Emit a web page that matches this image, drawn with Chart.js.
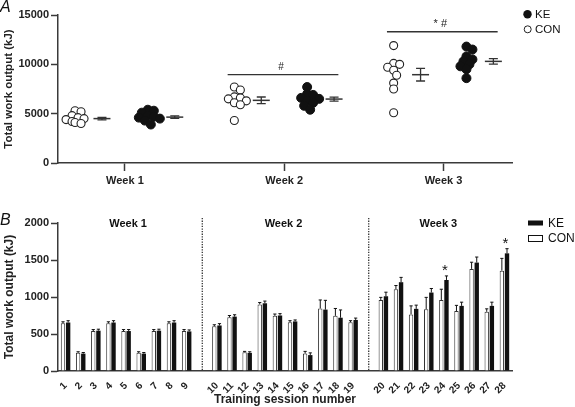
<!DOCTYPE html>
<html>
<head>
<meta charset="utf-8">
<script src="https://cdn.jsdelivr.net/npm/chart.js@4.4.0/dist/chart.umd.min.js"></script>
<style>
  html, body { margin: 0; padding: 0; background: #fff; }
  #wrap { position: relative; width: 575px; height: 407px; }
  #boxA { position: absolute; left: 0; top: 0; width: 575px; height: 195px; }
  #boxB { position: absolute; left: 0; top: 195px; width: 575px; height: 212px; }
</style>
</head>
<body>
<div id="wrap">
  <div id="boxA"><canvas id="chartA"></canvas></div>
  <div id="boxB"><canvas id="chartB"></canvas></div>
</div>
<script>
// ---- panel A: weekly totals per subject ----
const weeks = ["Week 1", "Week 2", "Week 3"];
const conIndividual = [
  [5300, 5200, 4800, 4600, 4500, 4400, 4200, 4100, 4000],
  [7700, 7400, 6700, 6600, 6500, 6300, 6100, 5900, 4300],
  [11900, 10100, 10000, 9700, 9400, 8900, 8100, 7500, 5100],
];
const keIndividual = [
  [5400, 5300, 5100, 4800, 4700, 4600, 4500, 4300, 3900],
  [7700, 7000, 6900, 6600, 6500, 6300, 6100, 5800, 5400],
  [11800, 11500, 10800, 10500, 10300, 10000, 9800, 9500, 8600],
];
const conMean = [4500, 6350, 8950];
const conSem = [120, 340, 640];
const keMean = [4650, 6480, 10300];
const keSem = [130, 200, 270];
const sigLevel = [null, 8950, 13300];
const sigText = ["", "#", "* #"];

// ---- panel B: per session ----
const sessions = ["1", "2", "3", "4", "5", "6", "7", "8", "9", "10", "11", "12", "13", "14",
  "15", "16", "17", "18", "19", "20", "21", "22", "23", "24", "25", "26", "27", "28"];
const conWork = [645, 245, 540, 645, 540, 245, 540, 645, 540, 605, 725, 255, 900, 745,
  660, 235, 845, 745, 660, 960, 1105, 765, 835, 960, 810, 1380, 800, 1355];
const conErr = [20, 15, 20, 20, 20, 15, 20, 20, 20, 20, 25, 10, 25, 25,
  20, 30, 115, 100, 20, 35, 50, 115, 160, 145, 77, 90, 40, 167];
const keWork = [655, 235, 545, 655, 540, 235, 545, 655, 535, 615, 735, 245, 915, 750,
  670, 215, 830, 720, 690, 1010, 1200, 840, 1060, 1230, 880, 1465, 880, 1590];
const keErr = [25, 15, 20, 25, 20, 15, 20, 25, 20, 25, 25, 15, 30, 25,
  20, 30, 125, 105, 25, 55, 65, 50, 55, 55, 50, 75, 50, 63];
const weekEnds = [9, 19, 28];   // last session of each week
const starSessions = [24, 28];

const FONT = "'Liberation Sans', Arial, Helvetica, sans-serif";
Chart.defaults.font.family = FONT;
Chart.defaults.color = "#222";
const AXIS = "#3a3a3a";

// rough beeswarm so overlapping dots spread sideways
const PX_PER_UNIT = 159.3;
const PX_PER_KJ = 148 / 15000;
function swarm(values, centre) {
  const placed = [];
  const out = new Array(values.length);
  const order = values.map((v, i) => i).sort((a, b) => values[b] - values[a]);
  const cands = [0, 3, -3, 6, -6, 9, -9, 12, -12];
  order.forEach(i => {
    const py = values[i] * PX_PER_KJ;
    let dx = cands.find(c => placed.every(p => Math.hypot(p.x - c, p.y - py) >= 5));
    if (dx === undefined) dx = 0;
    placed.push({ x: dx, y: py });
    out[i] = { x: centre + dx / PX_PER_UNIT, y: values[i] };
  });
  return out;
}

const annotA = {
  id: "annotA",
  afterDatasetsDraw(chart) {
    const { ctx, scales: { x, y } } = chart;
    ctx.save();
    ctx.strokeStyle = "#333";
    ctx.lineWidth = 1.3;
    // SEM whiskers around the mean lines
    [[2, conSem], [3, keSem]].forEach(([di, sem]) => {
      chart.data.datasets[di].data.forEach((d, i) => {
        const px = x.getPixelForValue(d.x);
        const top = y.getPixelForValue(d.y + sem[i]);
        const bot = y.getPixelForValue(d.y - sem[i]);
        ctx.beginPath();
        ctx.moveTo(px, top); ctx.lineTo(px, bot);
        ctx.moveTo(px - 4.5, top); ctx.lineTo(px + 4.5, top);
        ctx.moveTo(px - 4.5, bot); ctx.lineTo(px + 4.5, bot);
        ctx.stroke();
      });
    });
    // significance bars
    ctx.fillStyle = "#222";
    ctx.textAlign = "center";
    ctx.textBaseline = "alphabetic";
    sigLevel.forEach((lvl, i) => {
      if (lvl === null) return;
      const py = y.getPixelForValue(lvl);
      ctx.beginPath();
      ctx.moveTo(x.getPixelForValue(i - 0.355), py);
      ctx.lineTo(x.getPixelForValue(i + 0.34), py);
      ctx.stroke();
      ctx.font = (i === 2 ? "11px " : "10px ") + FONT;
      ctx.fillText(sigText[i], x.getPixelForValue(i - 0.02), py - 5);
    });
    // legend
    ctx.textAlign = "left";
    ctx.textBaseline = "middle";
    ctx.font = "11.5px " + FONT;
    ctx.fillStyle = "#111";
    ctx.beginPath(); ctx.arc(527.5, 14.2, 4.2, 0, Math.PI * 2); ctx.fill();
    ctx.fillText("KE", 535, 14.5);
    ctx.lineWidth = 1;
    ctx.strokeStyle = "#222";
    ctx.beginPath(); ctx.arc(527.7, 29.3, 3.5, 0, Math.PI * 2); ctx.stroke();
    ctx.fillText("CON", 535, 29.5);
    // panel letter
    ctx.font = "italic 16px " + FONT;
    ctx.textBaseline = "alphabetic";
    ctx.fillText("A", 0, 12);
    ctx.restore();
  },
};

new Chart(document.getElementById("chartA").getContext("2d"), {
  type: "scatter",
  data: {
    datasets: [
      {
        label: "KE",
        data: keIndividual.flatMap((vals, i) => swarm(vals, i + 0.144)),
        pointRadius: 4.5,
        pointBackgroundColor: "#111",
        pointBorderColor: "#111",
        pointBorderWidth: 1,
      },
      {
        label: "CON",
        data: conIndividual.flatMap((vals, i) => swarm(vals, i - 0.313)),
        pointRadius: 4,
        pointBackgroundColor: "#fff",
        pointBorderColor: "#222",
        pointBorderWidth: 1.1,
      },
      {
        label: "CON mean",
        data: conMean.map((m, i) => ({ x: i - 0.144, y: m })),
        pointStyle: "line",
        pointRadius: 8.5,
        pointBorderColor: "#333",
        pointBorderWidth: 1.5,
      },
      {
        label: "KE mean",
        data: keMean.map((m, i) => ({ x: i + 0.313, y: m })),
        pointStyle: "line",
        pointRadius: 8.5,
        pointBorderColor: "#333",
        pointBorderWidth: 1.5,
      },
    ],
  },
  options: {
    animation: false,
    responsive: true,
    maintainAspectRatio: false,
    layout: { padding: { top: 15, right: 63, left: 0, bottom: 0 } },
    plugins: { legend: { display: false }, tooltip: { enabled: false } },
    scales: {
      x: {
        type: "linear",
        min: -0.42,
        max: 2.43,
        afterBuildTicks: s => { s.ticks = weeks.map((w, i) => ({ value: i })); },
        afterFit: s => { s.height = 32; },
        ticks: {
          callback: (v, i) => weeks[i],
          font: { size: 11, weight: "bold" },
          color: "#222",
          padding: 3,
        },
        grid: { drawOnChartArea: false, tickLength: 8, tickColor: AXIS, tickWidth: 1.5 },
        border: { color: AXIS, width: 1.5 },
      },
      y: {
        min: 0,
        max: 15000,
        afterFit: s => { s.width = 58; },
        ticks: { stepSize: 5000, callback: v => String(v), font: { size: 11, weight: "bold" }, color: "#222", padding: 2 },
        grid: { drawOnChartArea: false, tickLength: 7, tickColor: AXIS, tickWidth: 1.5 },
        border: { color: AXIS, width: 1.5 },
        title: {
          display: true,
          text: "Total work output (kJ)",
          font: { size: 11.5, weight: "bold" },
          color: "#222",
          padding: { top: 2, bottom: 0 },
        },
      },
    },
  },
  plugins: [annotA],
});

// ---- panel B ----
function slotOf(i) {
  return i + weekEnds.filter(e => i >= e).length;
}
function toSlots(arr, blank) {
  const out = [];
  arr.forEach((v, i) => {
    out.push(v);
    if (weekEnds.indexOf(i + 1) > -1 && i + 1 < sessions.length) out.push(blank);
  });
  return out;
}
const slotLabels = toSlots(sessions, "");

function separatorPixels(chart) {
  const x = chart.scales.x;
  return weekEnds.slice(0, -1).map((e, k) => x.getPixelForValue(e + k) + 0.5);
}

const annotB = {
  id: "annotB",
  beforeDatasetsDraw(chart) {
    const { ctx, chartArea } = chart;
    ctx.save();
    ctx.strokeStyle = "#222";
    ctx.lineWidth = 1.2;
    ctx.setLineDash([1.3, 1.3]);
    separatorPixels(chart).forEach(px => {
      ctx.beginPath();
      ctx.moveTo(px, chartArea.top - 5);
      ctx.lineTo(px, chartArea.bottom);
      ctx.stroke();
    });
    ctx.restore();
  },
  afterDatasetsDraw(chart) {
    const { ctx, chartArea, scales: { y } } = chart;
    ctx.save();
    ctx.strokeStyle = "#111";
    ctx.lineWidth = 1;
    // upward error bars
    [[0, conWork, conErr], [1, keWork, keErr]].forEach(([di, vals, errs]) => {
      const meta = chart.getDatasetMeta(di);
      vals.forEach((v, i) => {
        const bar = meta.data[slotOf(i)];
        const top = y.getPixelForValue(v);
        const end = y.getPixelForValue(v + errs[i]);
        ctx.beginPath();
        ctx.moveTo(bar.x, top); ctx.lineTo(bar.x, end);
        ctx.moveTo(bar.x - 1.6, end); ctx.lineTo(bar.x + 1.6, end);
        ctx.stroke();
      });
    });
    // asterisks
    ctx.fillStyle = "#111";
    ctx.textAlign = "center";
    ctx.textBaseline = "alphabetic";
    ctx.font = "15px " + FONT;
    starSessions.forEach(s => {
      const i = s - 1;
      const bar = chart.getDatasetMeta(1).data[slotOf(i)];
      ctx.fillText("*", bar.x - 1.5, y.getPixelForValue(keWork[i] + keErr[i]) - 1);
    });
    // week headers, centred between the separators
    const edges = [chartArea.left, ...separatorPixels(chart), chartArea.right];
    ctx.font = "bold 11px " + FONT;
    ctx.textBaseline = "middle";
    weeks.forEach((w, k) => {
      ctx.fillText(w, (edges[k] + edges[k + 1]) / 2 - 2, chartArea.top + 1);
    });
    // legend
    ctx.textAlign = "left";
    ctx.font = "12px " + FONT;
    ctx.fillRect(528, 25.5, 15, 5);
    ctx.fillText("KE", 548, 28.5);
    ctx.fillStyle = "#fff";
    ctx.fillRect(528.5, 40.5, 14, 6);
    ctx.strokeRect(528.5, 40.5, 14, 6);
    ctx.fillStyle = "#111";
    ctx.fillText("CON", 548, 43.5);
    // panel letter
    ctx.font = "italic 16px " + FONT;
    ctx.textBaseline = "alphabetic";
    ctx.fillText("B", 0, 30);
    ctx.restore();
  },
};

new Chart(document.getElementById("chartB").getContext("2d"), {
  type: "bar",
  data: {
    labels: slotLabels,
    datasets: [
      {
        label: "CON",
        data: toSlots(conWork, null),
        backgroundColor: "#fff",
        borderColor: "#333",
        borderWidth: 1,
        categoryPercentage: 0.68,
        barPercentage: 0.85,
      },
      {
        label: "KE",
        data: toSlots(keWork, null),
        backgroundColor: "#111",
        borderColor: "#111",
        borderWidth: 0,
        categoryPercentage: 0.68,
        barPercentage: 0.85,
      },
    ],
  },
  options: {
    animation: false,
    responsive: true,
    maintainAspectRatio: false,
    layout: { padding: { top: 28, right: 63, left: 0, bottom: 0 } },
    plugins: { legend: { display: false }, tooltip: { enabled: false } },
    scales: {
      x: {
        afterFit: s => { s.height = 36; },
        ticks: {
          autoSkip: false,
          minRotation: 45,
          maxRotation: 45,
          font: { size: 10, weight: "bold" },
          color: "#222",
          padding: 1,
        },
        grid: { display: false },
        border: { color: AXIS, width: 1.5 },
        title: {
          display: true,
          text: "Training session number",
          font: { size: 12, weight: "bold" },
          color: "#222",
          padding: { top: 0, bottom: 0 },
        },
      },
      y: {
        min: 0,
        max: 2000,
        afterFit: s => { s.width = 58; },
        ticks: { stepSize: 500, callback: v => String(v), font: { size: 11, weight: "bold" }, color: "#222", padding: 2 },
        grid: { drawOnChartArea: false, tickLength: 7, tickColor: AXIS, tickWidth: 1.5 },
        border: { color: AXIS, width: 1.5 },
        title: {
          display: true,
          text: "Total work output (kJ)",
          font: { size: 12, weight: "bold" },
          color: "#222",
          padding: { top: 2, bottom: 0 },
        },
      },
    },
  },
  plugins: [annotB],
});
</script>
</body>
</html>
